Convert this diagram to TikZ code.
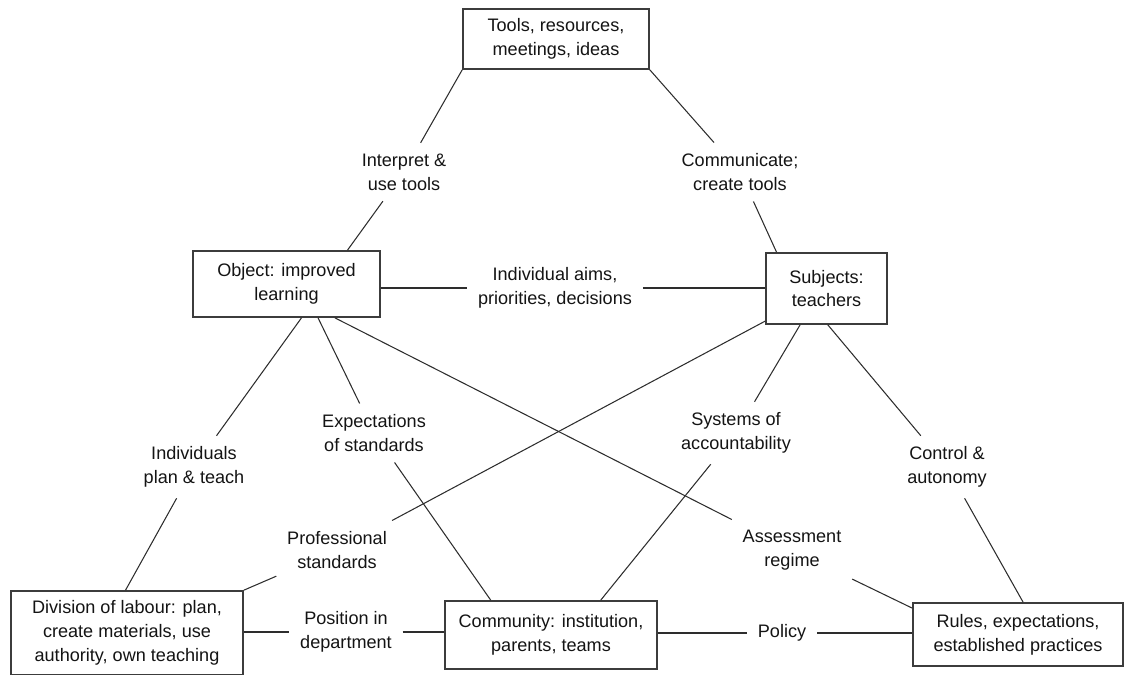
\documentclass[tikz,border=0pt]{standalone}
\usepackage{fontspec}
\setmainfont{Liberation Sans}
\usepackage{tikz}
\definecolor{LineColor}{RGB}{45,45,45}
\definecolor{BoxColor}{RGB}{60,60,60}
\definecolor{TextColor}{RGB}{20,20,20}
\tikzstyle{box} = [rectangle, draw=BoxColor, line width=0.9pt, fill=white, align=center, text=TextColor, inner sep=0pt, font=\fontsize{10.3}{13.6}\selectfont]
\tikzstyle{tag} = [align=center, text=TextColor, inner sep=6pt, font=\fontsize{10.3}{13.6}\selectfont]
\tikzstyle{link} = [LineColor, line width=0.6pt]

\begin{document}
\begin{tikzpicture}[x=0.02cm, y=-0.02cm]
    \useasboundingbox (0,0) rectangle (1126,675);

    % Boxes
    \node[box, minimum width=3.72cm, minimum height=1.2cm] (tools) at (556,39) {Tools, resources,\\meetings, ideas};
    \node[box, minimum width=3.74cm, minimum height=1.32cm] (object) at (286.5,284) {Object: improved\\learning};
    \node[box, minimum width=2.42cm, minimum height=1.42cm] (subjects) at (826.5,288.5) {Subjects:\\teachers};
    \node[box, minimum width=4.64cm, minimum height=1.68cm] (division) at (127,633) {Division of labour: plan,\\create materials, use\\authority, own teaching};
    \node[box, minimum width=4.24cm, minimum height=1.36cm] (community) at (551,635) {Community: institution,\\parents, teams};
    \node[box, minimum width=4.2cm, minimum height=1.26cm] (rules) at (1018,634.5) {Rules, expectations,\\established practices};

    % Labels
    \node[tag] (interp) at (404,172) {Interpret \&\\use tools};
    \node[tag] (comm) at (740,172) {Communicate;\\create tools};
    \node[tag] (aims) at (555,288) {Individual aims,\\priorities, decisions};
    \node[tag] (expect) at (374,433) {Expectations\\of standards};
    \node[tag] (systems) at (736,433) {Systems of\\accountability};
    \node[tag] (individuals) at (194,467) {Individuals\\plan \& teach};
    \node[tag] (control) at (947,467) {Control \&\\autonomy};
    \node[tag] (professional) at (337,550) {Professional\\standards};
    \node[tag] (assessment) at (792,550) {Assessment\\regime};
    \node[tag] (position) at (346,632) {Position in\\department};
    \node[tag] (policy) at (782,633) {Policy};

    % Top triangle
    \draw[link] (tools.south west) -- (interp) -- (object.29);
    \draw[link] (tools.south east) -- (comm) -- (subjects.144);
    \draw[link] (object.east |- aims) -- (aims) -- (subjects.west |- aims);

    % From object
    \draw[link] (object.-66) -- (individuals) -- (division.92);
    \draw[link] (object.-47) -- (expect) -- (community.150);
    \draw[link] (object.-35) -- (assessment) -- (rules.166);

    % From subjects
    \draw[link] (subjects.-152) -- (professional) -- (division.north east);
    \draw[link] (subjects.-126) -- (systems) -- (community.35);
    \draw[link] (subjects.-88) -- (control) -- (rules.81);

    % Bottom row
    \draw[link] (division.east |- position) -- (position) -- (community.west |- position);
    \draw[link] (community.east |- policy) -- (policy) -- (rules.west |- policy);
\end{tikzpicture}
\end{document}
